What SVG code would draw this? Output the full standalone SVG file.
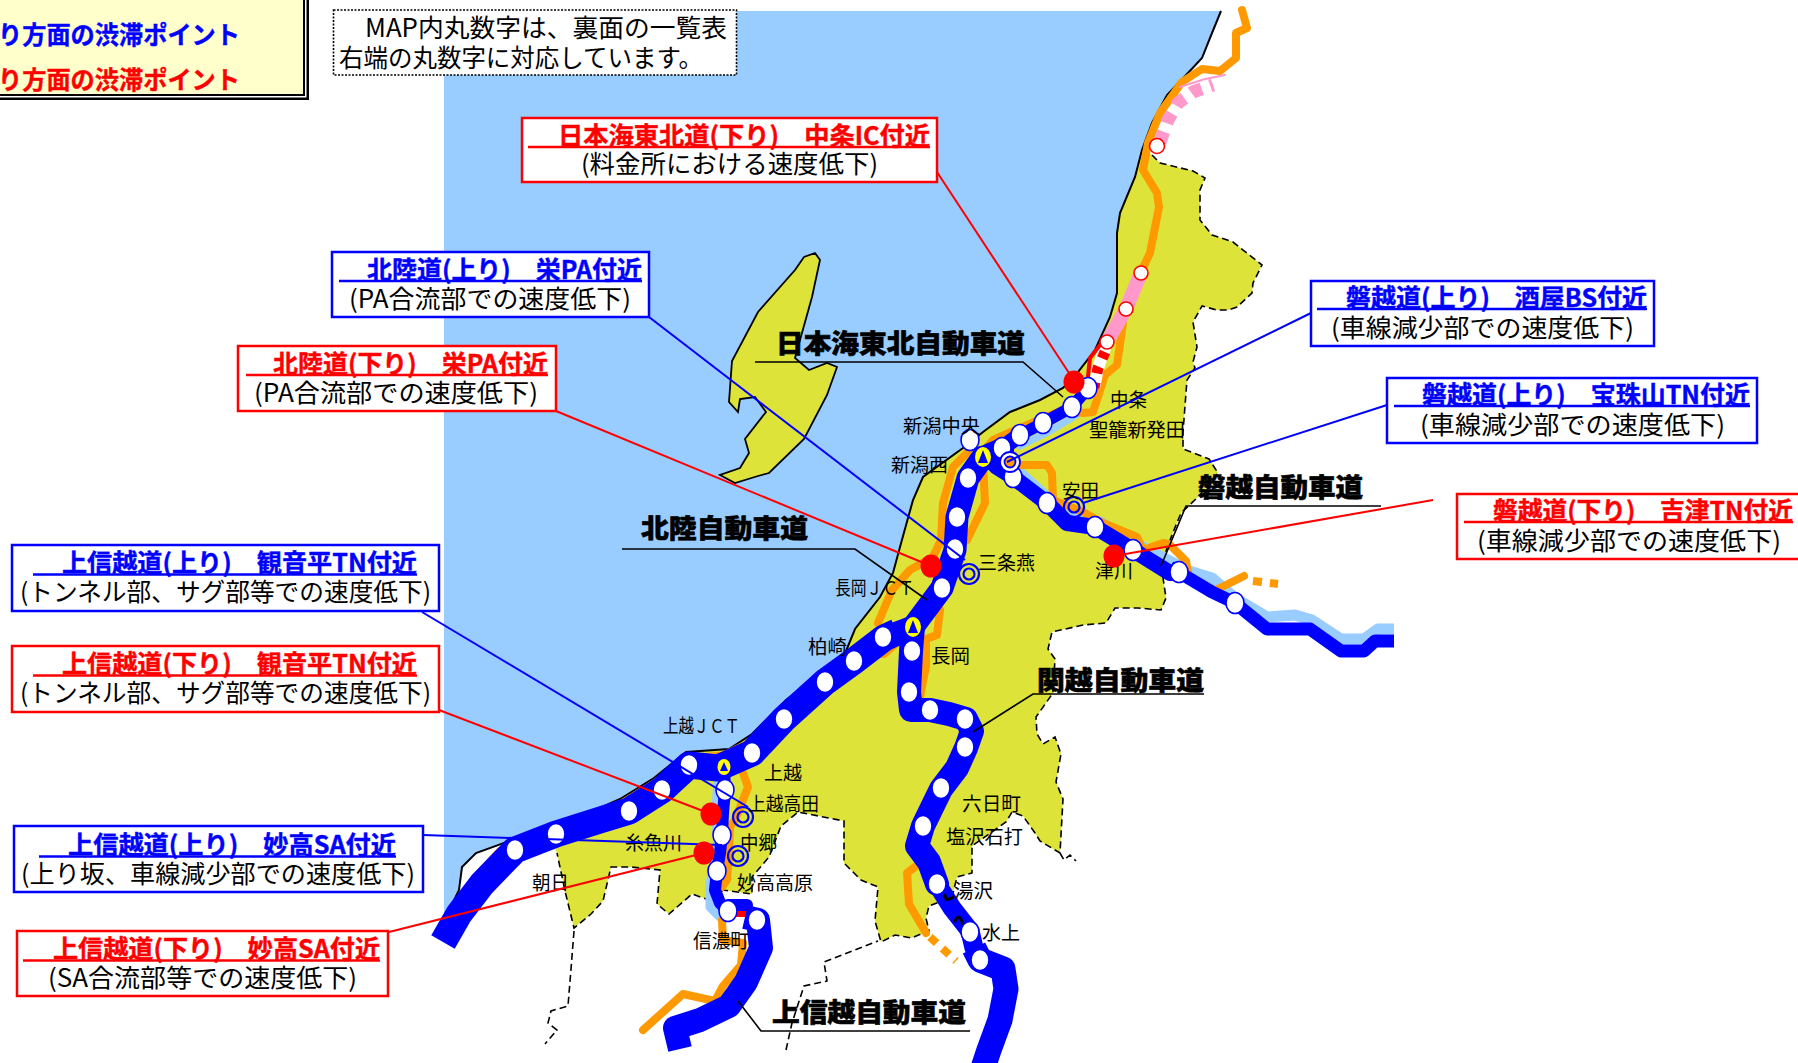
<svg xmlns="http://www.w3.org/2000/svg" width="1798" height="1063" viewBox="0 0 1798 1063">
<style>
text{font-family:"Noto Sans CJK JP","Noto Sans",sans-serif;fill:#000}
.t{font-size:25px;font-weight:700;stroke-width:.4}
.tb{fill:#00f;stroke:#00f}.tr{fill:#f00;stroke:#f00}
.s{font-size:25px}
.c{font-size:19px}
.n{font-size:26px;font-weight:900;stroke:#000;stroke-width:.6}
.bb{fill:#fff;stroke:#00f;stroke-width:2.5}
.br{fill:#fff;stroke:#f00;stroke-width:2.5}
.ub{stroke:#00f;stroke-width:2.5}.ur{stroke:#f00;stroke-width:2.5}
.road{fill:none;stroke-linejoin:round}
.bl{stroke:#00f}.lb{stroke:#9cf}.or{stroke:#f90}
.pk{stroke:#f9c}
.lk{fill:none;stroke:#000;stroke-width:1.6}
.ic{fill:#fff;stroke:#00f;stroke-width:1.6;rx:9px;ry:10.5px}
.ir{fill:#fff;stroke:#f00;stroke-width:1.6}
.ring{fill:none;stroke:#00f;stroke-width:2.2}
.dot{fill:#f00;rx:10.5px;ry:11.5px}
</style>
<rect width="1798" height="1063" fill="#fff"/>
<g id="map">
<path d="M444 11H1221L1212 33L1202 58L1188 73L1167 95L1152 123L1142 150L1135 177L1120 213L1117 233L1117 293L1110 317L1095 350L1078 372L1063 388L1040 400L1010 412L983 432L963 448L923 477L913 500L900 547L893 573L880 597L855 629L844 656L821 673L786 700L752 734L729 749L686 752L654 778L620 799L591 812L551 826L476 853L462 867L459 890L444 921Z" fill="#9cf"/>
<path id="land" d="M1152 155L1160 163L1193 171L1205 178L1200 190L1200 220L1212 235L1233 242L1262 265L1253 283L1252 293L1237 307L1228 310L1217 310L1202 306L1193 322L1197 347L1193 362L1195 368L1187 380L1183 432L1183 449L1209 459L1218 473L1198 497L1181 513L1174 530L1161 564L1166 598L1161 610L1138 608L1115 608L1106 623L1083 625L1052 632L1048 649L1055 659L1053 693L1036 717L1037 734L1043 744L1055 737L1061 754L1056 782L1063 799L1060 853L1040 841L1035 833L1023 816L1012 812L1006 822L972 846L972 873L957 877L952 897L929 906L926 918L929 931L911 938L895 935L881 942L875 921L878 887L861 880L844 863L844 821L798 812L781 826L769 857L752 877L752 894L723 890L712 901L692 894L669 914L657 904L660 870L631 867L611 867L603 901L591 914L574 928L565 891L557 853L551 840L556 826L591 812L620 799L654 778L686 752L729 749L752 734L786 700L821 673L844 656L855 629L880 597L893 573L900 547L913 500L923 477L963 448L983 432L1010 412L1040 400L1063 388L1078 372L1095 350L1110 317L1117 293L1117 233L1120 213L1135 177L1142 150Z" fill="#dde339"/>
<path d="M1221 11L1212 33L1202 58L1188 73L1167 95L1152 123L1142 150L1135 177L1120 213L1117 233L1117 293L1110 317L1095 350L1078 372L1063 388L1040 400L1010 412L983 432L963 448L923 477L913 500L900 547L893 573L880 597L855 629L844 656L821 673L786 700L752 734L729 749L686 752L654 778L620 799L591 812L551 826L476 853L462 867L459 890L444 921" fill="none" stroke="#000" stroke-width="2"/>
<path d="M1152 155L1160 163L1193 171L1205 178L1200 190L1200 220L1212 235L1233 242L1262 265L1253 283L1252 293L1237 307L1228 310L1217 310L1202 306L1193 322L1197 347L1193 362L1195 368L1187 380L1183 432L1183 449L1209 459L1218 473L1198 497L1181 513L1174 530L1161 564L1166 598L1161 610L1138 608L1115 608L1106 623L1083 625L1052 632L1048 649L1055 659L1053 693L1036 717L1037 734L1043 744L1055 737L1061 754L1056 782L1063 799L1060 853L1040 841L1035 833L1023 816L1012 812L1006 822L972 846L972 873L957 877L952 897L929 906L926 918L929 931L911 938L895 935L881 942L875 921L878 887L861 880L844 863L844 821L798 812L781 826L769 857L752 877L752 894L723 890L712 901L692 894L669 914L657 904L660 870L631 867L611 867L603 901L591 914L574 928L565 891L557 853M574 931L571 969L568 1006L551 1011L548 1023L557 1030L545 1044M786 1050L792 1023L804 986L827 981L824 962L878 941M1060 853L1064 860L1070 855L1076 861" fill="none" stroke="#000" stroke-width="1.6" stroke-dasharray="7 4"/>
<path id="sado" d="M815 253L820 260L812 297L795 358L809 370L827 363L837 367L827 395L804 439L769 473L758 476L735 483L720 475L740 468L749 453L745 439L766 412L755 397L740 399L738 412L729 402L732 361L758 312L795 270L804 257Z" fill="#dde339" stroke="#000" stroke-width="1.8"/>
</g>
<g id="roads" stroke-linecap="round">
<path class="road lb" stroke-width="11" stroke-linecap="butt" d="M1017 470L1047 497L1070 515L1100 522L1133 542L1189 571L1212 578L1235 598L1267 617L1295 615L1312 620L1341 639L1364 639L1378 629L1394 629"/>
<path class="road lb" stroke-width="7" d="M1020 446L1050 431L1080 413"/>
<path class="road lb" stroke-width="9" d="M718 777L716 810L718 853L710 883L710 907L720 917"/>
<path class="road or" stroke-width="8" d="M1242 10L1247 28L1236 33L1236 58L1220 71L1202 69L1182 82L1160 113L1148 143L1143 170L1157 193L1159 207L1150 253L1141 272M1123 323L1117 365L1105 375L1093 412L1083 413L1063 410L1020 428L993 440L983 452"/>
<path class="road or" stroke-width="8" d="M968 452L953 467L943 503L941 540L933 557L910 570L892 590L878 623M983 463L985 503L967 540M940 610L937 635L926 639L926 666L920 697M870 646L873 654L884 654L900 640"/>
<path class="road or" stroke-width="5" d="M821 673L786 705L752 740L723 754L686 757L654 782L620 803M499 850L474 877L453 911L442 928"/>
<path class="road or" stroke-width="8" d="M743 773L748 787L743 800L735 820L730 827L729 853L727 880L722 887M722 920L723 940L743 943L741 965L723 986L715 1001L683 994L643 1030"/>
<path class="road or" stroke-width="8" d="M920 863L907 873L909 904L926 933"/>
<path class="road or" stroke-width="8" stroke-dasharray="9 8" stroke-linecap="butt" d="M930 937L956 961"/>
<path class="road or" stroke-width="8" d="M1017 465L1047 465L1052 473L1053 500L1083 512L1103 523L1137 537L1143 550L1163 543L1169 544L1186 561L1189 578L1209 593L1226 585L1244 576"/>
<path class="road or" stroke-width="8" stroke-dasharray="9 8" stroke-linecap="butt" d="M1253 581L1278 584"/>
<path class="road pk" stroke-width="13" stroke-dasharray="11 9" stroke-linecap="butt" d="M1160 142L1168 120L1178 103L1193 92L1213 85"/>
<path class="road pk" stroke-width="2" d="M1180 87L1205 79L1225 75"/>
<path class="road pk" stroke-width="14" stroke-linecap="butt" d="M1141 273L1126 309L1107 342"/>
<path class="road" stroke="#fff" stroke-width="12" stroke-linecap="butt" d="M1107 342L1098 368L1094 388"/>
<path class="road" stroke="#f00" stroke-width="11" stroke-dasharray="7 9" stroke-linecap="butt" d="M1105 352L1098 368L1094 388"/>
<path class="road" stroke="#f00" stroke-width="4" d="M1100 345L1090 358L1087 385"/>
<path class="road bl" stroke-width="27" stroke-linecap="butt" d="M443 942L459 914L482 884L515 850L556 834L597 821L629 811L662 790L689 765L718 768L752 753L784 719L825 682L854 661L884 638L897 632"/>
<path class="road bl" stroke-width="23" d="M884 638L913 627L942 588L955 550L957 517L968 478L983 457"/>
<path class="road bl" stroke-width="24" d="M990 455L1002 450"/>
<path class="road bl" stroke-width="16" d="M1002 448L1020 435"/>
<path class="road bl" stroke-width="12" d="M1020 435L1043 423L1072 407L1088 388"/>
<path class="road bl" stroke-width="16" d="M985 455L997 467L1013 477L1047 503L1067 523L1095 527L1133 550L1170 573L1179 572"/>
<path class="road bl" stroke-width="13" stroke-linecap="butt" d="M1170 567L1212 592L1235 603L1267 629L1295 629L1310 629L1341 651L1364 651L1375 641L1394 641"/>
<path class="road bl" stroke-width="24" d="M913 627L911 651L909 692L911 710L930 710L949 714L966 719L972 731L966 748L957 768L941 789L923 826L917 846L929 862L937 884"/>
<path class="road bl" stroke-width="19" d="M937 884L952 908L970 931L974 948"/>
<path class="road bl" stroke-width="25" stroke-linecap="butt" d="M974 948L980 960L1003 969L1006 989L1000 1020L989 1050L983 1068"/>
<path class="road bl" stroke-width="12" d="M724 767L725 790L723 813L722 835L720 853L717 871L715 890L720 903L728 911"/>
<path class="road bl" stroke-width="12" d="M728 905L747 905"/>
<path class="road" stroke="#f00" stroke-width="6" stroke-linecap="butt" d="M732 914L750 914"/>
<path class="road bl" stroke-width="24" stroke-linecap="butt" d="M745 917L758 920L761 948L746 982L729 1006L700 1020L675 1028L680 1049"/>
<path d="M953 897Q945 903 945 895M963 925Q960 912 955 921" fill="none" stroke="#000" stroke-width="3"/>
</g>
<g id="ics">
<ellipse class="ic" cx="970" cy="440"/><ellipse class="ic" cx="968" cy="478"/><ellipse class="ic" cx="957" cy="517"/><ellipse class="ic" cx="955" cy="549"/><ellipse class="ic" cx="942" cy="588"/><ellipse class="ic" cx="883" cy="637"/>
<ellipse class="ic" cx="1002" cy="448"/><ellipse class="ic" cx="1020" cy="435"/><ellipse class="ic" cx="1043" cy="423"/><ellipse class="ic" cx="1072" cy="407"/><ellipse class="ic" cx="1088" cy="388"/>
<ellipse class="ic" cx="1013" cy="477"/><ellipse class="ic" cx="1047" cy="503"/><ellipse class="ic" cx="1095" cy="527"/><ellipse class="ic" cx="1133" cy="550"/><ellipse class="ic" cx="1179" cy="572"/><ellipse class="ic" cx="1235" cy="603"/>
<ellipse class="ic" cx="912" cy="651"/><ellipse class="ic" cx="909" cy="692"/><ellipse class="ic" cx="930" cy="710"/><ellipse class="ic" cx="965" cy="719"/><ellipse class="ic" cx="965" cy="747"/><ellipse class="ic" cx="941" cy="788"/><ellipse class="ic" cx="923" cy="826"/><ellipse class="ic" cx="937" cy="884"/><ellipse class="ic" cx="970" cy="932"/><ellipse class="ic" cx="980" cy="960"/>
<ellipse class="ic" cx="854" cy="661"/><ellipse class="ic" cx="825" cy="682"/><ellipse class="ic" cx="784" cy="719"/><ellipse class="ic" cx="752" cy="753"/><ellipse class="ic" cx="689" cy="765"/><ellipse class="ic" cx="662" cy="790"/><ellipse class="ic" cx="629" cy="811"/><ellipse class="ic" cx="556" cy="834"/><ellipse class="ic" cx="515" cy="850"/>
<ellipse class="ic" cx="725" cy="790"/><ellipse class="ic" cx="722" cy="835"/><ellipse class="ic" cx="717" cy="871"/><ellipse class="ic" cx="728" cy="911"/><ellipse class="ic" cx="757" cy="920"/>
<circle class="ir" cx="1157" cy="146" r="7.5"/><circle class="ir" cx="1141" cy="273" r="7"/><circle class="ir" cx="1126" cy="309" r="7"/><circle class="ir" cx="1107" cy="342" r="7"/>
<circle cx="1010" cy="462" r="10" fill="#fff" stroke="#00f" stroke-width="1.8"/><circle cx="1010" cy="462" r="5.5" fill="#f90" stroke="#00f" stroke-width="1.8"/>
<g class="ring"><circle cx="1074" cy="507" r="10"/><circle cx="1074" cy="507" r="5.5"/><circle cx="969" cy="574" r="10"/><circle cx="969" cy="574" r="5.5"/><circle cx="743" cy="817" r="10"/><circle cx="743" cy="817" r="5.5"/><circle cx="738" cy="856" r="10"/><circle cx="738" cy="856" r="5.5"/></g>
<g id="jct-a"><ellipse cx="983" cy="457" rx="8" ry="10" fill="#ff0"/><path d="M983 450L988 463H978Z" fill="#00f"/></g>
<g id="jct-b"><ellipse cx="913" cy="627" rx="8" ry="10" fill="#ff0"/><path d="M913 620L918 633H908Z" fill="#00f"/></g>
<g id="jct-c"><ellipse cx="724" cy="767" rx="6.500" ry="8" fill="#ff0"/><path d="M724 762L728 771H720Z" fill="#00f"/></g>
</g>
<g id="labels">
<text class="c" x="903" y="433" textLength="77" lengthAdjust="spacingAndGlyphs">新潟中央</text>
<text class="c" x="891" y="472" textLength="57" lengthAdjust="spacingAndGlyphs">新潟西</text>
<text class="c" x="1110" y="407" textLength="37" lengthAdjust="spacingAndGlyphs">中条</text>
<text class="c" x="1089" y="437" textLength="96" lengthAdjust="spacingAndGlyphs">聖籠新発田</text>
<text class="c" x="1062" y="498" textLength="37" lengthAdjust="spacingAndGlyphs">安田</text>
<text class="c" x="978" y="570" textLength="57" lengthAdjust="spacingAndGlyphs">三条燕</text>
<text class="c" x="1095" y="578" textLength="38" lengthAdjust="spacingAndGlyphs">津川</text>
<text class="c" x="835" y="595" textLength="79" lengthAdjust="spacingAndGlyphs">長岡ＪＣＴ</text>
<text class="c" x="808" y="654" textLength="39" lengthAdjust="spacingAndGlyphs">柏崎</text>
<text class="c" x="931" y="663" textLength="39" lengthAdjust="spacingAndGlyphs">長岡</text>
<text class="c" x="663" y="733" textLength="77" lengthAdjust="spacingAndGlyphs">上越ＪＣＴ</text>
<text class="c" x="764" y="780" textLength="38" lengthAdjust="spacingAndGlyphs">上越</text>
<text class="c" x="748" y="811" textLength="71" lengthAdjust="spacingAndGlyphs">上越高田</text>
<text class="c" x="740" y="850" textLength="37" lengthAdjust="spacingAndGlyphs">中郷</text>
<text class="c" x="625" y="850" textLength="57" lengthAdjust="spacingAndGlyphs">糸魚川</text>
<text class="c" x="532" y="890" textLength="37" lengthAdjust="spacingAndGlyphs">朝日</text>
<text class="c" x="737" y="890" textLength="76" lengthAdjust="spacingAndGlyphs">妙高高原</text>
<text class="c" x="693" y="948" textLength="56" lengthAdjust="spacingAndGlyphs">信濃町</text>
<text class="c" x="962" y="811" textLength="59" lengthAdjust="spacingAndGlyphs">六日町</text>
<text class="c" x="946" y="844" textLength="77" lengthAdjust="spacingAndGlyphs">塩沢石打</text>
<text class="c" x="954" y="898" textLength="39" lengthAdjust="spacingAndGlyphs">湯沢</text>
<text class="c" x="982" y="940" textLength="38" lengthAdjust="spacingAndGlyphs">水上</text>
</g>
<g id="road-names">
<text class="n" x="776" y="353" textLength="249" lengthAdjust="spacingAndGlyphs">日本海東北自動車道</text>
<path class="lk" d="M755 362H1023L1063 397"/>
<text class="n" x="641" y="538" textLength="167" lengthAdjust="spacingAndGlyphs">北陸自動車道</text>
<path class="lk" d="M622 549H855L927 600"/>
<text class="n" x="1198" y="497" textLength="165" lengthAdjust="spacingAndGlyphs">磐越自動車道</text>
<path class="lk" d="M1381 506H1186L1161 566"/>
<text class="n" x="1037" y="690" textLength="167" lengthAdjust="spacingAndGlyphs">関越自動車道</text>
<path class="lk" d="M1204 694H1033L973 732"/>
<text class="n" x="772" y="1022" textLength="194" lengthAdjust="spacingAndGlyphs">上信越自動車道</text>
<path class="lk" d="M970 1031H761L738 1001"/>
</g>
<g id="connectors" fill="none" stroke-width="2">
<path stroke="#f00" d="M937 172L1069 373"/>
<path stroke="#00f" d="M649 317L965 560"/>
<path stroke="#f00" d="M556 411L931 566"/>
<path stroke="#00f" d="M1311 313L1007 462"/>
<path stroke="#00f" d="M1387 405L1083 503"/>
<path stroke="#f00" d="M1433 500L1114 556"/>
<path stroke="#00f" d="M422 612L748 807"/>
<path stroke="#f00" d="M439 710L711 814"/>
<path stroke="#00f" d="M423 835L722 845"/>
<path stroke="#f00" d="M389 932L704 853"/>
</g>
<g id="points">
<ellipse class="dot" cx="1074" cy="382"/><ellipse class="dot" cx="931" cy="566"/><ellipse class="dot" cx="1114" cy="556"/><ellipse class="dot" cx="711" cy="814"/><ellipse class="dot" cx="704" cy="853"/>
</g>
<g id="legend">
<rect x="-10" y="-10" width="319" height="110" fill="#000"/>
<rect x="-10" y="-10" width="316.500" height="107.500" fill="#fff"/>
<rect x="-10" y="-10" width="315" height="106" fill="#000"/>
<rect x="-10" y="-10" width="313" height="104" fill="#ffc"/>
<text class="t tb" x="-2" y="44" textLength="242" lengthAdjust="spacingAndGlyphs">り方面の渋滞ポイント</text>
<text class="t tr" x="-2" y="89" textLength="242" lengthAdjust="spacingAndGlyphs">り方面の渋滞ポイント</text>
</g>
<g id="note">
<rect x="333.500" y="10" width="403" height="65" fill="#fff" stroke="#000" stroke-width="1.6" stroke-dasharray="2 1.500"/>
<text class="s" x="365" y="37" textLength="362" lengthAdjust="spacingAndGlyphs">MAP内丸数字は、裏面の一覧表</text>
<text class="s" x="339" y="67" textLength="364" lengthAdjust="spacingAndGlyphs">右端の丸数字に対応しています。</text>
</g>
<g id="box-chujo"><rect class="br" x="522" y="118" width="415" height="64"/><line class="ur" x1="528" y1="147" x2="930" y2="147"/><text class="t tr" x="558" y="145" textLength="372" lengthAdjust="spacingAndGlyphs">日本海東北道(下り)　中条IC付近</text><text class="s" x="581" y="173" textLength="297" lengthAdjust="spacingAndGlyphs">(料金所における速度低下)</text></g>
<g id="box-sakae-up"><rect class="bb" x="332" y="252" width="317" height="65"/><line class="ub" x1="339" y1="281" x2="642" y2="281"/><text class="t tb" x="367" y="279" textLength="275" lengthAdjust="spacingAndGlyphs">北陸道(上り)　栄PA付近</text><text class="s" x="349" y="308" textLength="282" lengthAdjust="spacingAndGlyphs">(PA合流部での速度低下)</text></g>
<g id="box-sakae-down"><rect class="br" x="238" y="346" width="318" height="65"/><line class="ur" x1="246" y1="375" x2="548" y2="375"/><text class="t tr" x="273" y="373" textLength="275" lengthAdjust="spacingAndGlyphs">北陸道(下り)　栄PA付近</text><text class="s" x="254" y="402" textLength="284" lengthAdjust="spacingAndGlyphs">(PA合流部での速度低下)</text></g>
<g id="box-sakaya"><rect class="bb" x="1311" y="281" width="343" height="65"/><line class="ub" x1="1317" y1="309" x2="1647" y2="309"/><text class="t tb" x="1346" y="307" textLength="301" lengthAdjust="spacingAndGlyphs">磐越道(上り)　酒屋BS付近</text><text class="s" x="1331" y="337" textLength="303" lengthAdjust="spacingAndGlyphs">(車線減少部での速度低下)</text></g>
<g id="box-hoju"><rect class="bb" x="1387" y="378" width="370" height="65"/><line class="ub" x1="1394" y1="406" x2="1750" y2="406"/><text class="t tb" x="1422" y="404" textLength="328" lengthAdjust="spacingAndGlyphs">磐越道(上り)　宝珠山TN付近</text><text class="s" x="1420" y="434" textLength="305" lengthAdjust="spacingAndGlyphs">(車線減少部での速度低下)</text></g>
<g id="box-tsugawa"><rect class="br" x="1457" y="494" width="350" height="65"/><line class="ur" x1="1464" y1="522" x2="1793" y2="522"/><text class="t tr" x="1493" y="520" textLength="300" lengthAdjust="spacingAndGlyphs">磐越道(下り)　吉津TN付近</text><text class="s" x="1477" y="550" textLength="304" lengthAdjust="spacingAndGlyphs">(車線減少部での速度低下)</text></g>
<g id="box-kannon-up"><rect class="bb" x="12" y="545" width="427" height="66"/><line class="ub" x1="33" y1="574.500" x2="417" y2="574.500"/><text class="t tb" x="62" y="572" textLength="355" lengthAdjust="spacingAndGlyphs">上信越道(上り)　観音平TN付近</text><text class="s" x="20" y="601" textLength="411" lengthAdjust="spacingAndGlyphs">(トンネル部、サグ部等での速度低下)</text></g>
<g id="box-kannon-down"><rect class="br" x="12" y="646" width="427" height="66"/><line class="ur" x1="33" y1="675.500" x2="417" y2="675.500"/><text class="t tr" x="62" y="673" textLength="355" lengthAdjust="spacingAndGlyphs">上信越道(下り)　観音平TN付近</text><text class="s" x="20" y="702" textLength="411" lengthAdjust="spacingAndGlyphs">(トンネル部、サグ部等での速度低下)</text></g>
<g id="box-myoko-up"><rect class="bb" x="14" y="826" width="409" height="66"/><line class="ub" x1="39" y1="856.500" x2="396" y2="856.500"/><text class="t tb" x="68" y="854" textLength="328" lengthAdjust="spacingAndGlyphs">上信越道(上り)　妙高SA付近</text><text class="s" x="21" y="883" textLength="394" lengthAdjust="spacingAndGlyphs">(上り坂、車線減少部での速度低下)</text></g>
<g id="box-myoko-down"><rect class="br" x="17" y="931" width="371" height="65"/><line class="ur" x1="23" y1="960.500" x2="380" y2="960.500"/><text class="t tr" x="53" y="958" textLength="327" lengthAdjust="spacingAndGlyphs">上信越道(下り)　妙高SA付近</text><text class="s" x="48" y="987" textLength="309" lengthAdjust="spacingAndGlyphs">(SA合流部等での速度低下)</text></g>
</svg>
